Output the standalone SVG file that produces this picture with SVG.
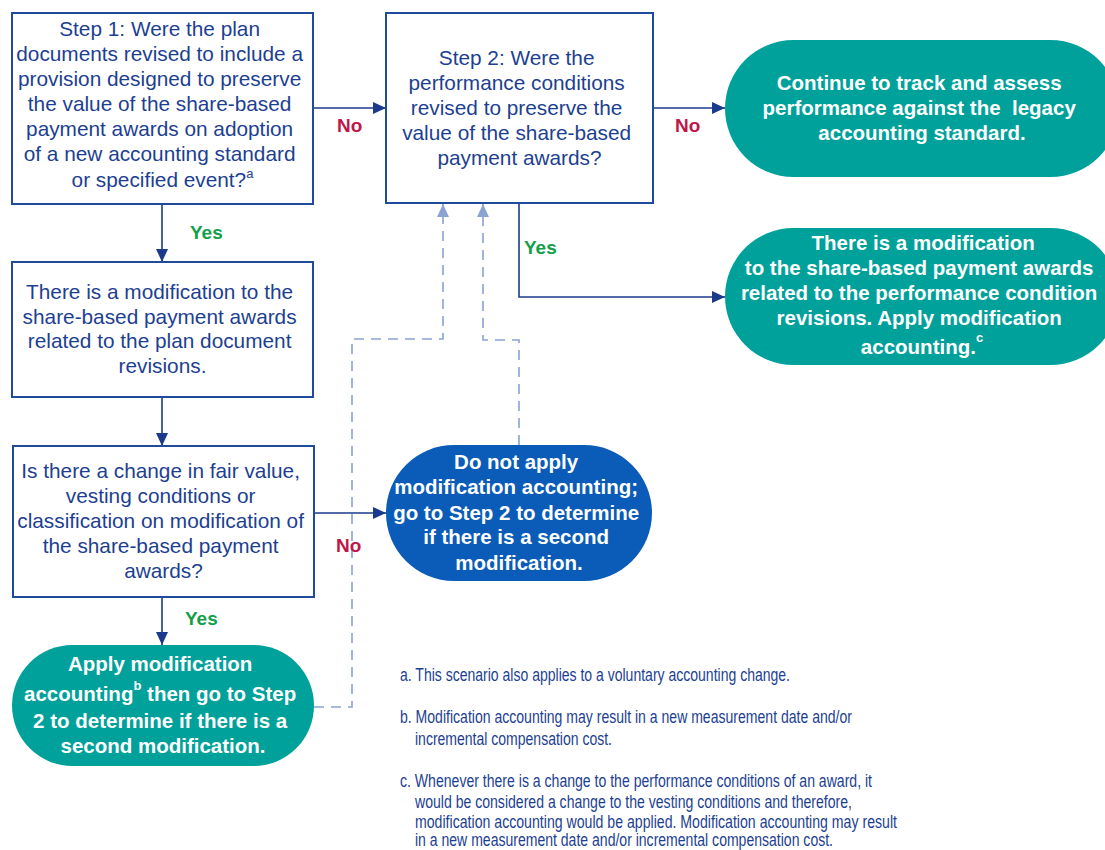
<svg xmlns="http://www.w3.org/2000/svg" width="1105" height="850" viewBox="0 0 1105 850">
<defs>
<marker id="ah" markerUnits="userSpaceOnUse" markerWidth="14" markerHeight="12" refX="13" refY="6" orient="auto">
<path d="M0,0 L13,6 L0,12 Z" fill="#1a3a8c"/>
</marker>
<marker id="ahd" markerUnits="userSpaceOnUse" markerWidth="14" markerHeight="12" refX="13" refY="6" orient="auto">
<path d="M0,0 L13,6 L0,12 Z" fill="#8aa3d2"/>
</marker>
</defs>
<style>
.box{fill:#fff;stroke:#1f4b9c;stroke-width:2}
.bt{font-family:"Liberation Sans",Arial,sans-serif;font-size:20.8px;fill:#1d3f91;text-anchor:middle}
.pt{font-family:"Liberation Sans",Arial,sans-serif;font-size:20.5px;font-weight:bold;fill:#fff;text-anchor:middle}
.teal{fill:#00a19b}
.blue{fill:#0a5cb8}
.con{fill:none;stroke:#1a3a8c;stroke-width:1.6}
.dash{fill:none;stroke:#8aa3d2;stroke-width:1.6;stroke-dasharray:10,7}
.no{font-family:"Liberation Sans",Arial,sans-serif;font-size:19px;font-weight:bold;fill:#c0174a}
.yes{font-family:"Liberation Sans",Arial,sans-serif;font-size:19px;font-weight:bold;fill:#13a04a}
.fn{font-family:"Liberation Sans",Arial,sans-serif;font-size:17.5px;fill:#1d3f91}
</style>

<g id="connectors">
<path class="con" d="M313,108 H386" marker-end="url(#ah)"/>
<path class="con" d="M653,108 H725" marker-end="url(#ah)"/>
<path class="con" d="M162,204 V262" marker-end="url(#ah)"/>
<path class="con" d="M162,397 V446" marker-end="url(#ah)"/>
<path class="con" d="M314,513 H386" marker-end="url(#ah)"/>
<path class="con" d="M162,597 V645" marker-end="url(#ah)"/>
<path class="con" d="M519,203 V297 H725" marker-end="url(#ah)"/>
<path class="dash" d="M314,707 H352 V339 H443 V204" marker-end="url(#ahd)"/>
<path class="dash" d="M519,445 V340 H483 V204" marker-end="url(#ahd)"/>
<text class="no" x="337" y="132">No</text>
<text class="no" x="675" y="132">No</text>
<text class="no" x="336" y="552">No</text>
<text class="yes" x="190" y="239">Yes</text>
<text class="yes" x="524" y="254">Yes</text>
<text class="yes" x="185" y="625">Yes</text>
</g>

<g id="step1">
<rect class="box" x="12" y="13" width="301" height="191"/>
<text class="bt">
<tspan x="162.5" y="36">Step 1: Were the plan</tspan>
<tspan x="162.5" y="61">documents revised to include a</tspan>
<tspan x="162.5" y="86">provision designed to preserve</tspan>
<tspan x="162.5" y="111">the value of the share-based</tspan>
<tspan x="162.5" y="136">payment awards on adoption</tspan>
<tspan x="162.5" y="161">of a new accounting standard</tspan>
<tspan x="162.5" y="187">or specified event?<tspan dy="-9" font-size="13">a</tspan></tspan>
</text>
</g>

<g id="step2">
<rect class="box" x="386" y="13" width="267" height="190"/>
<text class="bt">
<tspan x="519.5" y="65">Step 2: Were the</tspan>
<tspan x="519.5" y="90">performance conditions</tspan>
<tspan x="519.5" y="115">revised to preserve the</tspan>
<tspan x="519.5" y="140">value of the share-based</tspan>
<tspan x="519.5" y="165">payment awards?</tspan>
</text>
</g>

<g id="continue">
<rect class="teal" x="725" y="40" width="394" height="137" rx="68.5"/>
<text class="pt">
<tspan x="922" y="90">Continue to track and assess</tspan>
<tspan x="922" y="115">performance against the &#160;legacy</tspan>
<tspan x="922" y="140">accounting standard.</tspan>
</text>
</g>

<g id="mod-perf">
<rect class="teal" x="725" y="228" width="394" height="137" rx="68.5"/>
<text class="pt">
<tspan x="926" y="250">There is a modification</tspan>
<tspan x="922" y="275">to the share-based payment awards</tspan>
<tspan x="922" y="300">related to the performance condition</tspan>
<tspan x="922" y="325">revisions. Apply modification</tspan>
<tspan x="922" y="354">accounting.<tspan dy="-12" font-size="13">c</tspan></tspan>
</text>
</g>

<g id="mod-plan">
<rect class="box" x="12" y="262" width="301" height="135"/>
<text class="bt">
<tspan x="162.5" y="299">There is a modification to the</tspan>
<tspan x="162.5" y="324">share-based payment awards</tspan>
<tspan x="162.5" y="348">related to the plan document</tspan>
<tspan x="162.5" y="373">revisions.</tspan>
</text>
</g>

<g id="change-q">
<rect class="box" x="13" y="446" width="301" height="151"/>
<text class="bt">
<tspan x="163.5" y="478">Is there a change in fair value,</tspan>
<tspan x="163.5" y="503">vesting conditions or</tspan>
<tspan x="163.5" y="528">classification on modification of</tspan>
<tspan x="163.5" y="553">the share-based payment</tspan>
<tspan x="163.5" y="578">awards?</tspan>
</text>
</g>

<g id="do-not">
<rect class="blue" x="386" y="445" width="266" height="136" rx="68"/>
<text class="pt">
<tspan x="519" y="469">Do not apply</tspan>
<tspan x="519" y="494">modification accounting;</tspan>
<tspan x="519" y="520">go to Step 2 to determine</tspan>
<tspan x="519" y="544">if there is a second</tspan>
<tspan x="519" y="570">modification.</tspan>
</text>
</g>

<g id="apply">
<rect class="teal" x="12" y="645" width="302" height="121" rx="60.5"/>
<text class="pt">
<tspan x="163" y="671">Apply modification</tspan>
<tspan x="163" y="701">accounting<tspan dy="-11" font-size="13">b</tspan><tspan dy="11"> then go to Step</tspan></tspan>
<tspan x="163" y="728">2 to determine if there is a</tspan>
<tspan x="163" y="753">second modification.</tspan>
</text>
</g>

<g id="footnotes">
<text class="fn" x="400" y="681" textLength="390" lengthAdjust="spacingAndGlyphs">a. This scenario also applies to a voluntary accounting change.</text>
<text class="fn" x="400" y="723" textLength="452" lengthAdjust="spacingAndGlyphs">b. Modification accounting may result in a new measurement date and/or</text>
<text class="fn" x="415" y="745" textLength="197" lengthAdjust="spacingAndGlyphs">incremental compensation cost.</text>
<text class="fn" x="400" y="787" textLength="472" lengthAdjust="spacingAndGlyphs">c. Whenever there is a change to the performance conditions of an award, it</text>
<text class="fn" x="415" y="808" textLength="437" lengthAdjust="spacingAndGlyphs">would be considered a change to the vesting conditions and therefore,</text>
<text class="fn" x="415" y="828" textLength="482" lengthAdjust="spacingAndGlyphs">modification accounting would be applied. Modification accounting may result</text>
<text class="fn" x="415" y="846" textLength="418" lengthAdjust="spacingAndGlyphs">in a new measurement date and/or incremental compensation cost.</text>
</g>
</svg>
